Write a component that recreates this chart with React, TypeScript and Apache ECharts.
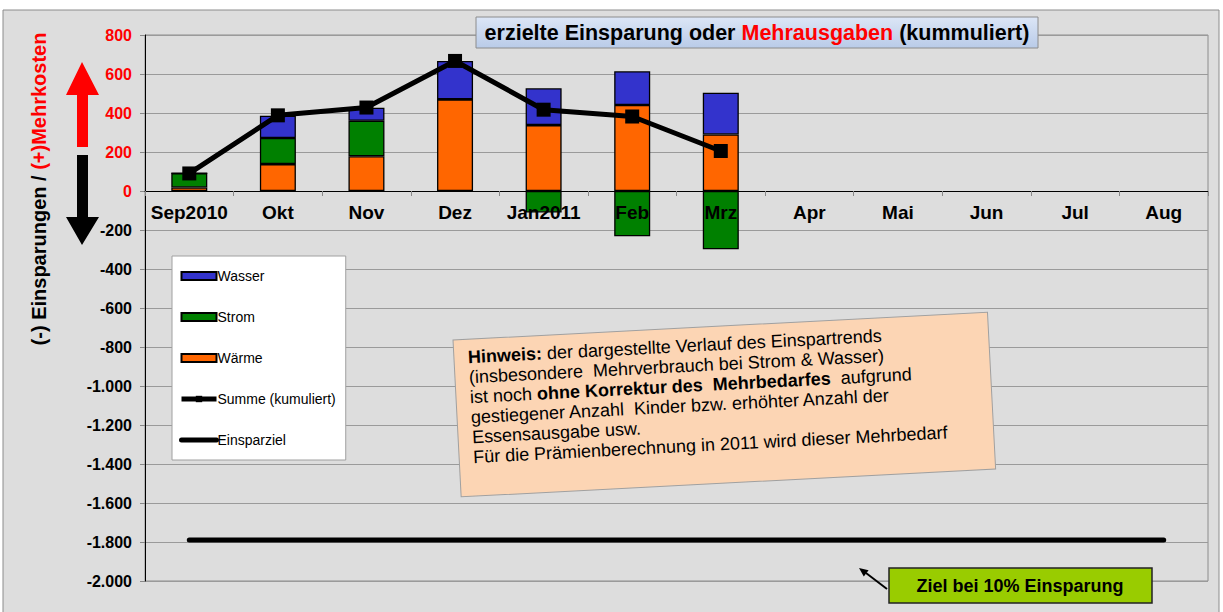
import React, { useEffect, useRef } from "react";
import * as echarts from "echarts";

const months = ["Sep2010", "Okt", "Nov", "Dez", "Jan2011", "Feb", "Mrz", "Apr", "Mai", "Jun", "Jul", "Aug"];
const waerme = [18, 138, 178, 470, 338, 441, 290, null, null, null, null, null];
const strom = [73, 134, 182, 0, -110, -232, -299, null, null, null, null, null];
const wasser = [0, 114, 67, 197, 189, 173, 214, null, null, null, null, null];
const summe = [90, 388, 428, 667, 417, 382, 205, null, null, null, null, null];
const einsparziel = [-1790, -1790, -1790, -1790, -1790, -1790, -1790, -1790, -1790, -1790, -1790, -1790];
const yTicks = { min: -2000, max: 800, interval: 200 };

const FONT = "'Liberation Sans', Arial, sans-serif";

function fmt(v: number): string {
  const s = Math.abs(v).toString().replace(/\B(?=(\d{3})+(?!\d))/g, ".");
  return (v < 0 ? "-" : "") + s;
}

export default function App() {
  const ref = useRef<HTMLDivElement>(null);
  useEffect(() => {
    if (!ref.current) return;
    const chart = echarts.init(ref.current, null, { renderer: "svg" });
    const barBase = { type: "bar", stack: "total", barWidth: 36 };
    const gridTop = 35;
    const gridBottom = 31;
    const plotH = 612 - gridTop - gridBottom;
    const zeroOffset = -plotH * (0 - yTicks.min) / (yTicks.max - yTicks.min);
    chart.setOption({
      animation: false,
      backgroundColor: "#ffffff",
      textStyle: { fontFamily: FONT },
      grid: { left: 145, top: gridTop, right: 15, bottom: gridBottom, show: true, borderColor: "#8c8c8c", borderWidth: 1 },
      xAxis: {
        type: "category",
        data: months,
        position: "bottom",
        offset: zeroOffset,
        z: 10,
        axisLine: { onZero: false, lineStyle: { color: "#000", width: 1 } },
        axisTick: { show: true, length: 5, lineStyle: { color: "#888" } },
        axisLabel: { interval: 0, fontSize: 19, fontWeight: "bold", color: "#000", margin: 12, fontFamily: FONT },
      },
      yAxis: {
        type: "value",
        min: yTicks.min,
        max: yTicks.max,
        interval: yTicks.interval,
        axisLine: { show: true, lineStyle: { color: "#000", width: 1 } },
        axisTick: { show: true, length: 5, lineStyle: { color: "#888" } },
        splitLine: { show: true, lineStyle: { color: "#9a9a9a", width: 1 } },
        axisLabel: {
          fontSize: 16,
          fontWeight: "bold",
          margin: 13,
          fontFamily: FONT,
          formatter: (v: number) => fmt(v),
          color: (v: any) => (Number(v) >= 0 ? "#ff0000" : "#000000"),
        },
      },
      legend: {
        orient: "vertical",
        left: 172,
        top: 256,
        width: 160,
        padding: [13, 10, 13, 7],
        backgroundColor: "#ffffff",
        borderColor: "#a0a0a0",
        borderWidth: 1,
        itemWidth: 35,
        itemHeight: 8,
        itemGap: 27,
        textStyle: { fontSize: 14, color: "#000", fontFamily: FONT, padding: [0, 0, 0, -4] },
        data: [
          { name: "Wasser", icon: "rect" },
          { name: "Strom", icon: "rect" },
          { name: "Wärme", icon: "rect" },
          { name: "Summe (kumuliert)", lineStyle: { width: 5 } },
          { name: "Einsparziel", lineStyle: { width: 5 }, itemStyle: { opacity: 0 } },
        ],
      },
      series: [
        { ...barBase, name: "Wärme", data: waerme, itemStyle: { color: "#ff6600", borderColor: "#000", borderWidth: 1.3 } },
        { ...barBase, name: "Strom", data: strom, itemStyle: { color: "#008000", borderColor: "#000", borderWidth: 1.3 } },
        { ...barBase, name: "Wasser", data: wasser, itemStyle: { color: "#3333cc", borderColor: "#000", borderWidth: 1.3 } },
        {
          type: "line",
          name: "Summe (kumuliert)",
          data: summe,
          symbol: "rect",
          symbolSize: 14,
          lineStyle: { color: "#000", width: 5 },
          itemStyle: { color: "#000" },
          z: 5,
        },
        {
          type: "line",
          name: "Einsparziel",
          data: einsparziel,
          symbol: "none",
          lineStyle: { color: "#000", width: 5, cap: "round" },
          itemStyle: { color: "#000" },
          z: 5,
        },
      ],
      graphic: [
        {
          type: "rect",
          z: -100,
          shape: { x: 3, y: 10, width: 1216, height: 610 },
          style: { fill: "#dddddd", stroke: "#8c8c8c", lineWidth: 1 },
        },
        {
          type: "rect",
          z: 100,
          shape: { x: 476, y: 17, width: 562, height: 31 },
          style: {
            fill: new echarts.graphic.LinearGradient(0, 0, 0, 1, [
              { offset: 0, color: "#dce6f6" },
              { offset: 1, color: "#b9cbe8" },
            ]),
            stroke: "#8c8c8c",
            lineWidth: 1,
          },
        },
        {
          type: "text",
          z: 101,
          style: {
            x: 757,
            y: 33,
            align: "center",
            verticalAlign: "middle",
            text: "{k|erzielte Einsparung oder }{r|Mehrausgaben}{k| (kummuliert)}",
            rich: {
              k: { fontSize: 21.5, fontWeight: "bold", fill: "#000", fontFamily: FONT },
              r: { fontSize: 21.5, fontWeight: "bold", fill: "#ff0000", fontFamily: FONT },
            },
          },
        },
        {
          type: "text",
          z: 100,
          x: 39,
          y: 189,
          rotation: Math.PI / 2,
          style: {
            x: 0,
            y: 0,
            align: "center",
            verticalAlign: "middle",
            text: "{k|(-) Einsparungen / }{r|(+)Mehrkosten}",
            rich: {
              k: { fontSize: 20, fontWeight: "bold", fill: "#000", fontFamily: FONT },
              r: { fontSize: 20, fontWeight: "bold", fill: "#ff0000", fontFamily: FONT },
            },
          },
        },
        {
          type: "polygon",
          z: 100,
          shape: { points: [[82, 62], [99, 95], [88, 95], [88, 147], [77, 147], [77, 95], [66, 95]] },
          style: { fill: "#ff0000" },
        },
        {
          type: "polygon",
          z: 100,
          shape: { points: [[77, 155], [88, 155], [88, 217], [99, 217], [82, 245], [66, 217], [77, 217]] },
          style: { fill: "#000000" },
        },
        {
          type: "group",
          x: 453,
          y: 340,
          rotation: 0.052,
          children: [
            {
              type: "rect",
              z: 100,
              shape: { x: 0, y: 0, width: 535, height: 157 },
              style: { fill: "#fcd5b4", stroke: "#a0a0a0", lineWidth: 1 },
            },
            {
              type: "text",
              z: 101,
              style: {
                x: 14,
                y: 8,
                align: "left",
                verticalAlign: "top",
                fontSize: 18,
                lineHeight: 20,
                fontFamily: FONT,
                fill: "#000",
                text:
                  "{b|Hinweis:}{n| der dargestellte Verlauf des Einspartrends}\n" +
                  "{n|(insbesondere  Mehrverbrauch bei Strom & Wasser)}\n" +
                  "{n|ist noch }{b|ohne Korrektur des  Mehrbedarfes}{n|  aufgrund}\n" +
                  "{n|gestiegener Anzahl  Kinder bzw. erhöhter Anzahl der}\n" +
                  "{n|Essensausgabe usw.}\n" +
                  "{n|Für die Prämienberechnung in 2011 wird dieser Mehrbedarf}",
                rich: {
                  b: { fontSize: 18, fontWeight: "bold", lineHeight: 20, fill: "#000", fontFamily: FONT },
                  n: { fontSize: 18, lineHeight: 20, fill: "#000", fontFamily: FONT },
                },
              },
            },
          ],
        },
        {
          type: "rect",
          z: 100,
          shape: { x: 889, y: 568, width: 263, height: 35 },
          style: { fill: "#99cc00", stroke: "#222", lineWidth: 1.5 },
        },
        {
          type: "text",
          z: 101,
          style: {
            x: 1020,
            y: 586,
            align: "center",
            verticalAlign: "middle",
            text: "Ziel bei 10% Einsparung",
            fontSize: 18,
            fontWeight: "bold",
            fill: "#000",
            fontFamily: FONT,
          },
        },
        {
          type: "line",
          z: 100,
          shape: { x1: 887, y1: 589, x2: 866, y2: 573 },
          style: { stroke: "#000", lineWidth: 2 },
        },
        {
          type: "polygon",
          z: 100,
          shape: { points: [[859, 568], [868.6, 570.2], [863.8, 576.6]] },
          style: { fill: "#000" },
        },
      ],
    });
    return () => chart.dispose();
  }, []);
  return (
    <div
      ref={ref}
      style={{ position: "absolute", left: 0, top: 0, width: 1223, height: 612 }}
    />
  );
}
